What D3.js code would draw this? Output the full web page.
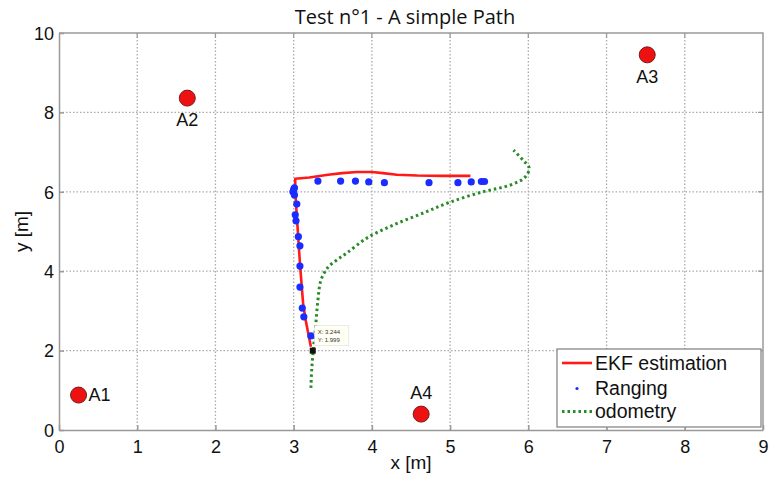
<!DOCTYPE html>
<html>
<head>
<meta charset="utf-8">
<script src="https://cdn.jsdelivr.net/npm/d3@7"></script>
<style>
  body { margin: 0; background: #fff; }
  svg { display: block; }
</style>
</head>
<body>
<script>
'use strict';

// anchors
const anchorNames = ['A1', 'A2', 'A3', 'A4'];
const anchorX = [0.25, 1.64, 7.52, 4.63];
const anchorY = [0.88, 8.36, 9.45, 0.40];

// EKF estimation
const ekfX = [3.22, 3.19, 3.15, 3.12, 3.10, 3.08, 3.06, 3.04, 3.02, 3.02, 3.20, 3.44, 3.62, 3.81, 4.00, 4.14, 4.32, 4.58, 4.90, 5.26];
const ekfY = [2.10, 2.40, 2.80, 3.20, 3.70, 4.20, 4.80, 5.40, 6.00, 6.33, 6.36, 6.43, 6.47, 6.50, 6.50, 6.47, 6.43, 6.41, 6.40, 6.40];

// ranging
const rangeX = [3.22, 3.13, 3.11, 3.08, 3.08, 3.08, 3.06, 3.03, 3.02, 3.04, 3.01, 2.99, 3.00, 3.01, 3.31, 3.60, 3.79, 3.96, 4.16, 4.73, 5.10, 5.27, 5.40, 5.44];
const rangeY = [2.37, 2.85, 3.07, 3.60, 4.13, 4.64, 4.87, 5.27, 5.42, 5.69, 5.92, 6.00, 6.06, 6.10, 6.27, 6.27, 6.27, 6.25, 6.23, 6.23, 6.23, 6.25, 6.26, 6.26];

// odometry
const odoX = [3.22, 3.23, 3.25, 3.28, 3.31, 3.35, 3.44, 3.55, 3.68, 3.94, 4.27, 4.65, 5.00, 5.42, 5.77, 5.96, 6.01, 5.93, 5.81];
const odoY = [1.06, 1.50, 2.00, 2.60, 3.27, 3.78, 4.10, 4.28, 4.46, 4.84, 5.16, 5.46, 5.74, 6.00, 6.17, 6.37, 6.60, 6.80, 7.05];

const xTicks = [0, 1, 2, 3, 4, 5, 6, 7, 8, 9];
const yTicks = [0, 2, 4, 6, 8, 10];

const tipPoint = {x: 3.244, y: 1.999};
const legendItems = ['EKF estimation', 'Ranging', 'odometry'];

const W = 771, H = 478;
const margin = {left: 59, right: 8, top: 33, bottom: 48};
const font = 'Liberation Sans, Arial, sans-serif';

const svg = d3.select('body').append('svg')
    .attr('width', W)
    .attr('height', H);

const x = d3.scaleLinear().domain([0, 9]).range([margin.left, W - margin.right]);
const y = d3.scaleLinear().domain([0, 10]).range([H - margin.bottom, margin.top]);

// grid
const grid = svg.append('g')
    .attr('stroke', '#aaa')
    .attr('stroke-width', 1.3)
    .attr('stroke-dasharray', '1.5,2');
grid.selectAll('.gx').data(xTicks.slice(1, -1)).enter().append('line')
    .attr('x1', d => x(d)).attr('x2', d => x(d))
    .attr('y1', y(0)).attr('y2', y(10));
grid.selectAll('.gy').data(yTicks.slice(1, -1)).enter().append('line')
    .attr('y1', d => y(d)).attr('y2', d => y(d))
    .attr('x1', x(0)).attr('x2', x(9));

// axes
const xAxis = svg.append('g')
    .attr('transform', `translate(0,${y(0)})`)
    .call(d3.axisBottom(x).tickValues(xTicks).tickSize(-5).tickPadding(10).tickSizeOuter(0));
const yAxis = svg.append('g')
    .attr('transform', `translate(${x(0)},0)`)
    .call(d3.axisLeft(y).tickValues(yTicks).tickSize(-5).tickPadding(5).tickSizeOuter(0));
[xAxis, yAxis].forEach(a => {
    a.selectAll('path, line').attr('stroke', '#999').attr('stroke-width', 1.5);
    a.selectAll('text')
        .attr('fill', '#111')
        .style('font-family', font)
        .style('font-size', '18px');
});
yAxis.selectAll('text').attr('dy', '0.35em');
// top and right box
svg.append('path')
    .attr('d', `M${x(0)},${y(10)}H${x(9)}V${y(0)}`)
    .attr('fill', 'none')
    .attr('stroke', '#999')
    .attr('stroke-width', 1.5);
svg.append('g').attr('stroke', '#999').attr('stroke-width', 1.2)
    .selectAll('line').data(xTicks.slice(1, -1)).enter().append('line')
    .attr('x1', d => x(d)).attr('x2', d => x(d))
    .attr('y1', y(10)).attr('y2', y(10) + 5);
svg.append('g').attr('stroke', '#999').attr('stroke-width', 1.2)
    .selectAll('line').data(yTicks.slice(1, -1)).enter().append('line')
    .attr('y1', d => y(d)).attr('y2', d => y(d))
    .attr('x1', x(9)).attr('x2', x(9) - 5);

// labels
svg.append('text')
    .attr('x', (x(0) + x(9)) / 2 - 6).attr('y', 24)
    .attr('text-anchor', 'middle')
    .style('font-family', 'Open Sans, sans-serif')
    .style('font-size', '20px')
    .attr('fill', '#111')
    .text('Test n°1 - A simple Path');
svg.append('text')
    .attr('x', (x(0) + x(9)) / 2).attr('y', 469)
    .attr('text-anchor', 'middle')
    .style('font-family', font)
    .style('font-size', '19px')
    .attr('fill', '#111')
    .text('x [m]');
svg.append('text')
    .attr('transform', `translate(28,${(y(0) + y(10)) / 2}) rotate(-90)`)
    .attr('text-anchor', 'middle')
    .style('font-family', font)
    .style('font-size', '19px')
    .attr('fill', '#111')
    .text('y [m]');

// odometry
const odo = odoX.map((v, i) => [v, odoY[i]]);
svg.append('path')
    .datum(odo)
    .attr('d', d3.line().x(d => x(d[0])).y(d => y(d[1])).curve(d3.curveCatmullRom))
    .attr('fill', 'none')
    .attr('stroke', '#2a8a2a')
    .attr('stroke-width', 3)
    .attr('stroke-dasharray', '2.5,3');

// EKF
const ekf = ekfX.map((v, i) => [v, ekfY[i]]);
svg.append('path')
    .datum(ekf)
    .attr('d', d3.line().x(d => x(d[0])).y(d => y(d[1])))
    .attr('fill', 'none')
    .attr('stroke', '#ff1a1a')
    .attr('stroke-width', 2.6)
    .attr('stroke-linejoin', 'round');

// ranging
svg.append('g').selectAll('circle')
    .data(rangeX.map((v, i) => [v, rangeY[i]]))
    .enter().append('circle')
    .attr('cx', d => x(d[0]))
    .attr('cy', d => y(d[1]))
    .attr('r', 3.6)
    .attr('fill', '#1a2cff');

// anchors
const anchors = anchorNames.map((n, i) => ({n, x: anchorX[i], y: anchorY[i]}));
const labelOff = {A1: [10, 0, 'start'], A2: [0, 22, 'middle'], A3: [0, 22, 'middle'], A4: [0, -21, 'middle']};
const ag = svg.append('g').selectAll('g').data(anchors).enter().append('g');
ag.append('circle')
    .attr('cx', d => x(d.x)).attr('cy', d => y(d.y))
    .attr('r', 8)
    .attr('fill', '#ee1111')
    .attr('stroke', '#7a1a1a')
    .attr('stroke-width', 1);
ag.append('text')
    .attr('x', d => x(d.x) + labelOff[d.n][0])
    .attr('y', d => y(d.y) + labelOff[d.n][1])
    .attr('dy', '0.35em')
    .attr('text-anchor', d => labelOff[d.n][2])
    .style('font-family', font)
    .style('font-size', '18px')
    .attr('fill', '#111')
    .text(d => d.n);

// datatip
const tx = x(tipPoint.x), ty = y(tipPoint.y);
svg.append('rect')
    .attr('x', tx - 3).attr('y', ty - 3).attr('width', 6).attr('height', 6)
    .attr('fill', '#111');
const tip = svg.append('g').attr('transform', `translate(${tx + 2},${ty - 25})`);
tip.append('rect')
    .attr('width', 34).attr('height', 20)
    .attr('fill', '#fffff4')
    .attr('stroke', '#ddd')
    .attr('stroke-width', 0.6);
tip.selectAll('text').data([`X: ${tipPoint.x}`, `Y: ${tipPoint.y}`]).enter().append('text')
    .attr('x', 3).attr('y', (d, i) => 8 + i * 8)
    .style('font-family', font)
    .style('font-size', '6px')
    .attr('fill', '#333')
    .text(d => d);

// legend
const lg = svg.append('g').attr('transform', 'translate(557,349)');
lg.append('rect')
    .attr('width', 204).attr('height', 78)
    .attr('fill', '#fff')
    .attr('stroke', '#888')
    .attr('stroke-width', 1.3);
const rowY = [14, 39.5, 62.5];
legendItems.forEach((t, i) => {
    lg.append('text')
        .attr('x', 38).attr('y', rowY[i])
        .attr('dy', '0.35em')
        .style('font-family', font)
        .style('font-size', '19.5px')
        .attr('fill', '#111')
        .text(t);
});
lg.append('line').attr('x1', 5).attr('x2', 35).attr('y1', rowY[0]).attr('y2', rowY[0])
    .attr('stroke', '#ff1a1a').attr('stroke-width', 2.6);
lg.append('circle').attr('cx', 20).attr('cy', rowY[1]).attr('r', 1.6).attr('fill', '#1a2cff');
lg.append('line').attr('x1', 5).attr('x2', 35).attr('y1', rowY[2]).attr('y2', rowY[2])
    .attr('stroke', '#2a8a2a').attr('stroke-width', 3).attr('stroke-dasharray', '2.5,3');
</script>
</body>
</html>
